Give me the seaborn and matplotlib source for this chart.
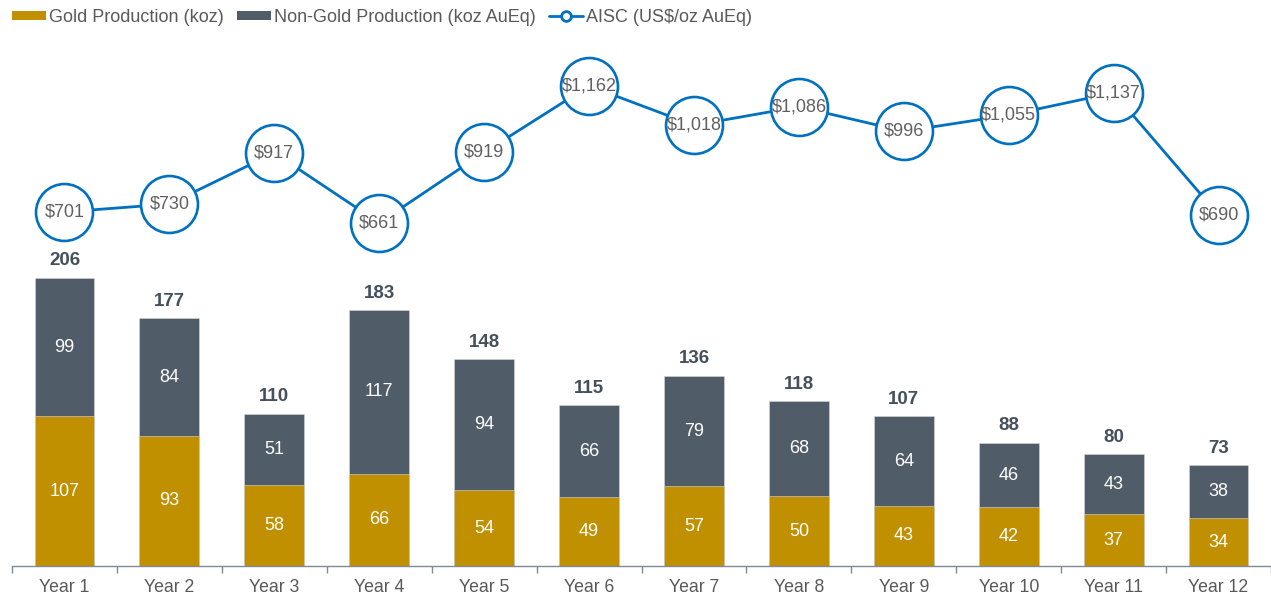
import numpy as np
import pandas as pd
import matplotlib
matplotlib.use("Agg")
import matplotlib.pyplot as plt
from matplotlib.lines import Line2D
from matplotlib.patches import Patch
import seaborn as sns

years = [f"Year {i}" for i in range(1, 13)]
gold = [107, 93, 58, 66, 54, 49, 57, 50, 43, 42, 37, 34]
nongold = [99, 84, 51, 117, 94, 66, 79, 68, 64, 46, 43, 38]
totals = [206, 177, 110, 183, 148, 115, 136, 118, 107, 88, 80, 73]
aisc = [701, 730, 917, 661, 919, 1162, 1018, 1086, 996, 1055, 1137, 690]

GOLD = "#C09000"
GREY = "#505C68"
BLUE = "#0070C0"
TXT = "#595959"

sns.set_theme(style="white")
plt.rcParams["font.family"] = ["Liberation Sans", "DejaVu Sans"]

df = pd.DataFrame({"year": years, "gold": gold, "nongold": nongold,
                   "stack": np.array(gold) + np.array(nongold),
                   "total": totals, "aisc": aisc})

fig = plt.figure(figsize=(12.71, 5.94), dpi=100)
ax = fig.add_axes([12 / 1271, (594 - 566) / 594, 1259 / 1271, (566 - 40) / 594])

bw = 0.57
sns.barplot(data=df, x="year", y="stack", color=GREY, width=bw, ax=ax,
            saturation=1, edgecolor="#d9d9d9", linewidth=0.4)
sns.barplot(data=df, x="year", y="gold", color=GOLD, width=bw, ax=ax,
            saturation=1, edgecolor="#d9d9d9", linewidth=0.4)

ax.set_xlim(-0.5, len(years) - 0.5)
ax.set_ylim(0, 376)
ax.set_xlabel("")
ax.set_ylabel("")
ax.set_yticks([])
for s in ["top", "right", "left"]:
    ax.spines[s].set_visible(False)
ax.spines["bottom"].set_color("#7f8a94")
ax.spines["bottom"].set_linewidth(1.0)
ax.set_xticks(range(len(years)))
ax.set_xticklabels(years, fontsize=12.7, color=TXT)
ax.tick_params(axis="x", which="major", length=0, pad=9)
ax.set_xticks(np.arange(-0.5, len(years) + 0.5, 1), minor=True)
ax.tick_params(axis="x", which="minor", length=5, width=1, color="#7f8a94", bottom=True)

for i in range(len(years)):
    ax.text(i, gold[i] / 2, f"{gold[i]}", ha="center", va="center", color="white", fontsize=13)
    ax.text(i, gold[i] + nongold[i] / 2, f"{nongold[i]}", ha="center", va="center",
            color="white", fontsize=13)
    ax.text(i, gold[i] + nongold[i] + 6, f"{totals[i]}", ha="center", va="bottom",
            color="#44505c", fontsize=13.5, fontweight="bold")

ax2 = ax.twinx()
df["pos"] = range(len(years))
sns.lineplot(data=df, x="pos", y="aisc", ax=ax2, color=BLUE, linewidth=2.0,
             marker="o", markersize=41, markerfacecolor="white",
             markeredgecolor=BLUE, markeredgewidth=1.9, zorder=3)
ax2.set_ylim(-594, 1330)
ax2.set_xlim(-0.5, len(years) - 0.5)
ax2.set_yticks([])
ax2.set_ylabel("")
ax2.set_xlabel("")
for s in ["top", "right", "left", "bottom"]:
    ax2.spines[s].set_visible(False)
for i, v in enumerate(aisc):
    ax2.text(i, v, f"${v:,}", ha="center", va="center", color="#606060", fontsize=13, zorder=5)

handles = [Patch(facecolor=GOLD, edgecolor="none"),
           Patch(facecolor=GREY, edgecolor="none"),
           Line2D([0], [0], color=BLUE, linewidth=2.0, marker="o", markersize=7,
                  markerfacecolor="white", markeredgecolor=BLUE, markeredgewidth=2.0)]
labels = ["Gold Production (koz)", "Non-Gold Production (koz AuEq)", "AISC (US$/oz AuEq)"]
fig.legend(handles, labels, loc="upper left", bbox_to_anchor=(0.002, 1.0), ncol=3,
           frameon=False, fontsize=13, handlelength=1.9, handleheight=0.45,
           handletextpad=0.15, columnspacing=0.75, labelcolor=TXT,
           borderaxespad=0.1)

fig.savefig("out.png", dpi=100)
